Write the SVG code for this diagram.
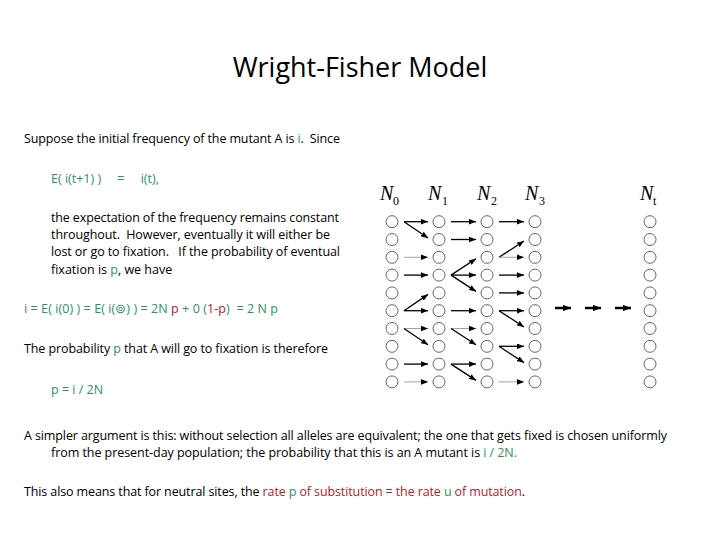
<svg xmlns="http://www.w3.org/2000/svg" width="720" height="540" viewBox="0 0 720 540">
<style>
text{font-family:"Open Sans","Liberation Sans",sans-serif;fill:#000;font-size:12.5px}
.g{fill:#2e9163}.r{fill:#b0242f}
.title{font-size:27px}
.c{fill:#fff;stroke:#555;stroke-width:0.9}
.a{stroke:#000;stroke-width:1.3;fill:none;marker-end:url(#ah)}
.t{stroke:#999;stroke-width:0.9;fill:none;marker-end:url(#ah)}
.b{stroke:#000;stroke-width:2.5;fill:none;marker-end:url(#bh)}
.n{font-family:"Liberation Serif",serif;font-style:italic;font-size:20px}
.s{font-family:"Liberation Serif",serif;font-size:12px}
</style>
<defs>
<marker id="ah" viewBox="0 0 10 8" refX="10" refY="4" markerWidth="7" markerHeight="5.6" markerUnits="userSpaceOnUse" orient="auto"><path d="M0,0 L10,4 L0,8 z" fill="#000"/></marker>
<marker id="bh" viewBox="0 0 10 8" refX="10" refY="4" markerWidth="8" markerHeight="6.4" markerUnits="userSpaceOnUse" orient="auto"><path d="M0,0 L10,4 L0,8 z" fill="#000"/></marker>
</defs>
<text class="title" x="360" y="77" text-anchor="middle">Wright-Fisher Model</text>
<g id="text">
<text x="24" y="143" textLength="316" xml:space="preserve">Suppose the initial frequency of the mutant A is <tspan class="g">i</tspan>.  Since</text>
<text x="51" y="183" class="g" xml:space="preserve">E( i(t+1) )     =     i(t),</text>
<text x="51" y="222" textLength="288">the expectation of the frequency remains constant</text>
<text x="51" y="239" textLength="279" xml:space="preserve">throughout.  However, eventually it will either be</text>
<text x="51" y="256" textLength="289" xml:space="preserve">lost or go to fixation.   If the probability of eventual</text>
<text x="51" y="274">fixation is <tspan class="g">p</tspan>, we have</text>
<text x="24" y="313" class="g" textLength="254" xml:space="preserve">i = E( i(0) ) = E( i(⊚) ) = 2N <tspan class="r">p</tspan> + 0 (<tspan class="r">1-p</tspan>)  = 2 N p</text>
<text x="24" y="353" textLength="304">The probability <tspan class="g">p</tspan> that A will go to fixation is therefore</text>
<text x="51" y="394" class="g">p = i / 2N</text>
<text x="24" y="440" textLength="643">A simpler argument is this: without selection all alleles are equivalent; the one that gets fixed is chosen uniformly</text>
<text x="51" y="457" textLength="466">from the present-day population; the probability that this is an A mutant is <tspan class="g">i / 2N.</tspan></text>
<text x="24" y="496" textLength="501">This also means that for neutral sites, the <tspan class="r">rate <tspan class="g">p</tspan> of substitution = the rate <tspan class="g">u</tspan> of mutation</tspan>.</text>
</g>
<g id="labels">
<text class="n" x="380" y="200">N</text><text class="s" x="393" y="205">0</text>
<text class="n" x="428" y="200">N</text><text class="s" x="442" y="205">1</text>
<text class="n" x="477" y="200">N</text><text class="s" x="491" y="205">2</text>
<text class="n" x="525" y="200">N</text><text class="s" x="539" y="205">3</text>
<text class="n" x="640" y="200">N</text><text class="s" x="653" y="205">t</text>
</g>
<g id="nodes">
<g id="col0"><circle class="c" cx="392" cy="221.7" r="6"/><circle class="c" cx="392" cy="239.5" r="6"/><circle class="c" cx="392" cy="257.3" r="6"/><circle class="c" cx="392" cy="275.1" r="6"/><circle class="c" cx="392" cy="292.9" r="6"/><circle class="c" cx="392" cy="310.7" r="6"/><circle class="c" cx="392" cy="328.5" r="6"/><circle class="c" cx="392" cy="346.3" r="6"/><circle class="c" cx="392" cy="364.1" r="6"/><circle class="c" cx="392" cy="381.9" r="6"/></g>
<g id="col1"><circle class="c" cx="439" cy="221.7" r="6"/><circle class="c" cx="439" cy="239.5" r="6"/><circle class="c" cx="439" cy="257.3" r="6"/><circle class="c" cx="439" cy="275.1" r="6"/><circle class="c" cx="439" cy="292.9" r="6"/><circle class="c" cx="439" cy="310.7" r="6"/><circle class="c" cx="439" cy="328.5" r="6"/><circle class="c" cx="439" cy="346.3" r="6"/><circle class="c" cx="439" cy="364.1" r="6"/><circle class="c" cx="439" cy="381.9" r="6"/></g>
<g id="col2"><circle class="c" cx="487" cy="221.7" r="6"/><circle class="c" cx="487" cy="239.5" r="6"/><circle class="c" cx="487" cy="257.3" r="6"/><circle class="c" cx="487" cy="275.1" r="6"/><circle class="c" cx="487" cy="292.9" r="6"/><circle class="c" cx="487" cy="310.7" r="6"/><circle class="c" cx="487" cy="328.5" r="6"/><circle class="c" cx="487" cy="346.3" r="6"/><circle class="c" cx="487" cy="364.1" r="6"/><circle class="c" cx="487" cy="381.9" r="6"/></g>
<g id="col3"><circle class="c" cx="535" cy="221.7" r="6"/><circle class="c" cx="535" cy="239.5" r="6"/><circle class="c" cx="535" cy="257.3" r="6"/><circle class="c" cx="535" cy="275.1" r="6"/><circle class="c" cx="535" cy="292.9" r="6"/><circle class="c" cx="535" cy="310.7" r="6"/><circle class="c" cx="535" cy="328.5" r="6"/><circle class="c" cx="535" cy="346.3" r="6"/><circle class="c" cx="535" cy="364.1" r="6"/><circle class="c" cx="535" cy="381.9" r="6"/></g>
<g id="colt"><circle class="c" cx="650" cy="221.7" r="6"/><circle class="c" cx="650" cy="239.5" r="6"/><circle class="c" cx="650" cy="257.3" r="6"/><circle class="c" cx="650" cy="275.1" r="6"/><circle class="c" cx="650" cy="292.9" r="6"/><circle class="c" cx="650" cy="310.7" r="6"/><circle class="c" cx="650" cy="328.5" r="6"/><circle class="c" cx="650" cy="346.3" r="6"/><circle class="c" cx="650" cy="364.1" r="6"/><circle class="c" cx="650" cy="381.9" r="6"/></g>
</g>
<g id="connectors">
<line class="a" x1="404" y1="221.7" x2="428" y2="221.7"/>
<line class="a" x1="404" y1="221.7" x2="428" y2="238"/>
<line class="t" x1="404" y1="257.3" x2="428" y2="257.3"/>
<line class="a" x1="404" y1="275.1" x2="428" y2="275.1"/>
<line class="a" x1="404" y1="310.7" x2="428" y2="294.4"/>
<line class="a" x1="404" y1="310.7" x2="428" y2="310.7"/>
<line class="t" x1="404" y1="328.5" x2="428" y2="328.5"/>
<line class="a" x1="404" y1="328.5" x2="428" y2="344.8"/>
<line class="a" x1="404" y1="364.1" x2="428" y2="364.1"/>
<line class="t" x1="404" y1="381.9" x2="428" y2="381.9"/>
<line class="a" x1="451" y1="221.7" x2="476" y2="221.7"/>
<line class="a" x1="451" y1="239.5" x2="476" y2="239.5"/>
<line class="a" x1="451" y1="275.1" x2="476" y2="258.8"/>
<line class="a" x1="451" y1="275.1" x2="476" y2="275.1"/>
<line class="a" x1="451" y1="275.1" x2="476" y2="291.4"/>
<line class="a" x1="451" y1="310.7" x2="476" y2="310.7"/>
<line class="t" x1="451" y1="328.5" x2="476" y2="328.5"/>
<line class="a" x1="451" y1="328.5" x2="476" y2="344.8"/>
<line class="a" x1="451" y1="364.1" x2="476" y2="364.1"/>
<line class="a" x1="451" y1="364.1" x2="476" y2="380.4"/>
<line class="a" x1="499" y1="221.7" x2="524" y2="221.7"/>
<line class="a" x1="499" y1="257.3" x2="524" y2="241"/>
<line class="t" x1="499" y1="257.3" x2="524" y2="257.3"/>
<line class="a" x1="499" y1="275.1" x2="524" y2="275.1"/>
<line class="a" x1="499" y1="292.9" x2="524" y2="292.9"/>
<line class="a" x1="499" y1="310.7" x2="524" y2="310.7"/>
<line class="a" x1="499" y1="310.7" x2="524" y2="327"/>
<line class="a" x1="499" y1="346.3" x2="524" y2="346.3"/>
<line class="a" x1="499" y1="346.3" x2="524" y2="362.6"/>
<line class="t" x1="499" y1="381.9" x2="524" y2="381.9"/>
<line class="b" x1="555" y1="308" x2="571" y2="308"/>
<line class="b" x1="585" y1="308" x2="601" y2="308"/>
<line class="b" x1="615" y1="308" x2="631" y2="308"/>
</g>
</svg>
